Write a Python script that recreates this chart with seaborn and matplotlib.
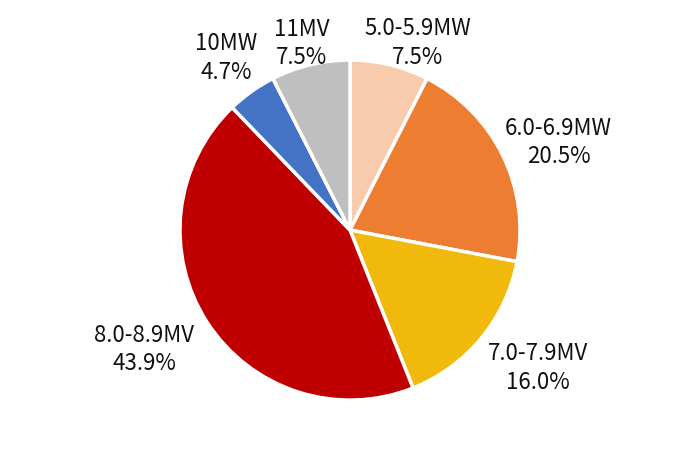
import matplotlib
matplotlib.use("Agg")
import matplotlib.pyplot as plt
import seaborn as sns
import numpy as np

sns.set_theme(style="white")
plt.rcParams['font.family'] = ['Noto Sans CJK SC', 'DejaVu Sans']

categories = ["5.0-5.9MW", "6.0-6.9MW", "7.0-7.9MV", "8.0-8.9MV", "10MW", "11MV"]
shares = [7.5, 20.5, 16.0, 43.9, 4.7, 7.5]
pct_labels = ["7.5%", "20.5%", "16.0%", "43.9%", "4.7%", "7.5%"]
colors = ["#F8CBAD", "#ED7D31", "#F0B90B", "#C00000", "#4472C4", "#BFBFBF"]

# label placement: distance (relative to radius) and angular nudge (deg)
label_dist = [1.17, 1.33, 1.37, 1.40, 1.246, 1.134]
label_nudge = [-6.5, -3.4, 3.2, -2.7, 0.4, 1.0]

fig = plt.figure(figsize=(7.0, 4.62), dpi=100)
ax = fig.add_axes([0.257, 0.134, 0.486, 0.736])

wedges, _ = ax.pie(
    shares,
    colors=colors,
    startangle=90,
    counterclock=False,
    wedgeprops=dict(edgecolor="white", linewidth=2.5),
    radius=1.0,
)

for w, cat, pct, d, nd in zip(wedges, categories, pct_labels, label_dist, label_nudge):
    mid = np.deg2rad((w.theta1 + w.theta2) / 2 + nd)
    x, y = d * np.cos(mid), d * np.sin(mid)
    ax.text(x, y, f"{cat}\n{pct}", ha="center", va="center",
            fontsize=16, color="#111111", linespacing=1.32)

ax.set_xlim(-1, 1)
ax.set_ylim(-1, 1)
ax.set_aspect("equal")
ax.axis("off")

fig.savefig("out.png", dpi=100)
